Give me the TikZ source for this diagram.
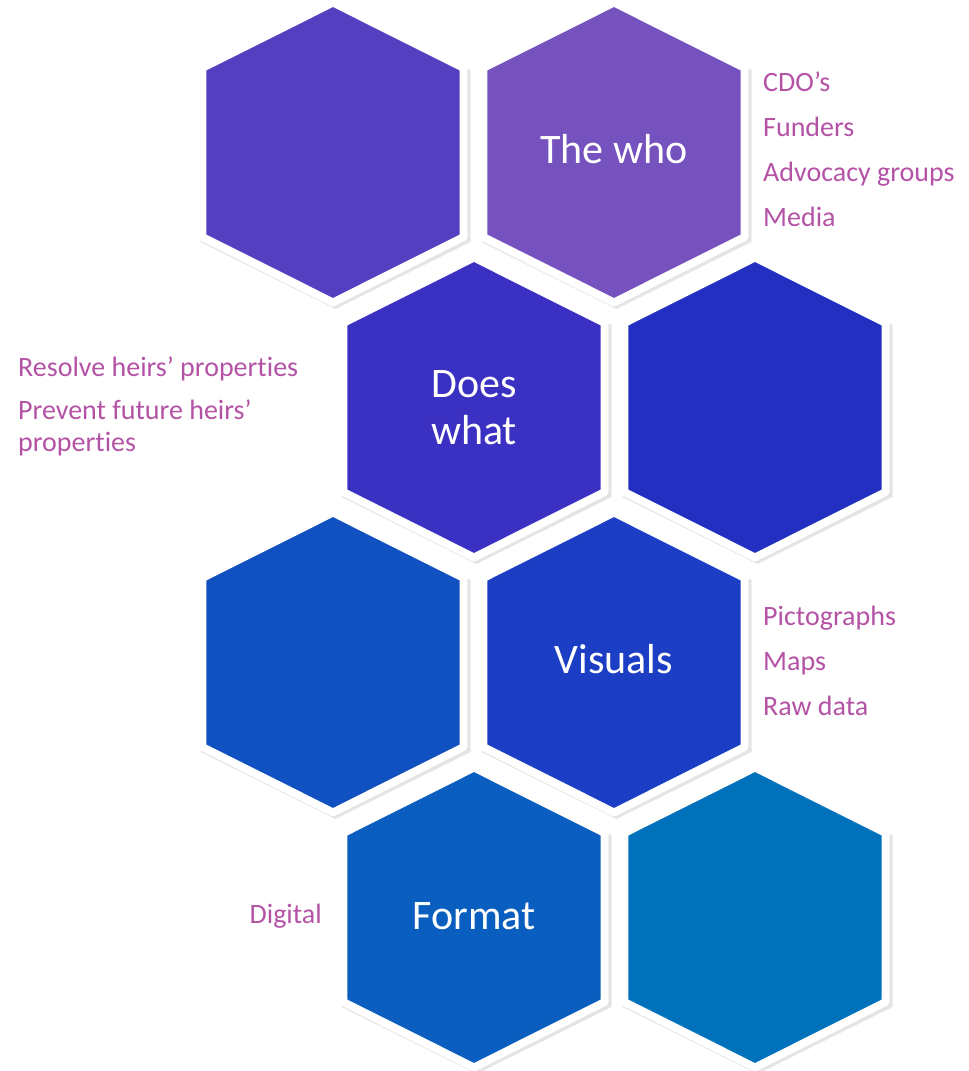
\documentclass[tikz,border=0pt]{standalone}
\usepackage{fontspec}
\setmainfont{Carlito}[Ligatures=NoCommon]
\usetikzlibrary{calc}
\definecolor{hexTL}{RGB}{85,63,193}
\definecolor{hexWho}{RGB}{117,82,190}
\definecolor{hexDoes}{RGB}{58,48,194}
\definecolor{hexRtwo}{RGB}{35,47,192}
\definecolor{hexLthree}{RGB}{17,80,192}
\definecolor{hexVis}{RGB}{28,62,196}
\definecolor{hexFmt}{RGB}{10,94,192}
\definecolor{hexRfour}{RGB}{0,114,188}
\definecolor{itempink}{RGB}{180,82,166}

\begin{document}
\begin{tikzpicture}[x=1pt,y=-1pt]
	\path [use as bounding box] (0,0) rectangle (969,1071);
	\tikzstyle{hextext} = [text=white, font=\fontsize{42}{47}\selectfont, align=center]
	\tikzstyle{itemtext} = [text=itempink, font=\fontsize{28}{32}\selectfont, align=left, inner sep=0pt]
	\foreach \n/\x/\y in {TL/333/152.5, Who/614/152.5, Does/474/407.5, Rtwo/755/407.5, Lthree/333/662.5, Vis/614/662.5, Fmt/474/917.5, Rfour/755/917.5} {
		\fill[black, opacity=.1, shift={(\x+2.5,\y+3.5)}] (0,-153) -- (135,-86) -- (135,86) -- (0,153) -- (-135,86) -- (-135,-86) -- cycle;
		\fill[black, opacity=.12, shift={(\x+1.5,\y+2)}] (0,-151.5) -- (133,-85) -- (133,85) -- (0,151.5) -- (-133,85) -- (-133,-85) -- cycle;
		\filldraw[fill=hex\n, draw=white, line width=8pt, line join=round, shift={(\x,\y)}] (0,-150) -- (130.7,-84.5) -- (130.7,84.5) -- (0,150) -- (-130.7,84.5) -- (-130.7,-84.5) -- cycle;
		\coordinate (hex\n) at (\x,\y);
	}
	\node[hextext, anchor=base] (who) at ($(hexWho)+(0,10.5)$) {The who};
	\node[hextext] (does) at (hexDoes) {Does\\what};
	\node[hextext, anchor=base] (visuals) at ($(hexVis)+(0,10.5)$) {Visuals};
	\node[hextext, anchor=base] (format) at ($(hexFmt)+(0,11.5)$) {Format};
	\node[itemtext, anchor=base west] (whoList) at ($(hexWho)+(149,74.2)$) {CDO’s\\[13pt]Funders\\[13pt]Advocacy groups\\[13pt]Media};
	\node[itemtext, anchor=base west] (doesList) at ($(hexDoes)+(-456,44.2)$) {Resolve heirs’ properties\\[11pt]Prevent future heirs’\\properties};
	\node[itemtext, anchor=base west] (visList) at ($(hexVis)+(149,52.5)$) {Pictographs\\[13pt]Maps\\[13pt]Raw data};
	\node[itemtext, anchor=base east] (fmtList) at ($(hexFmt)+(-152,5.5)$) {Digital};
\end{tikzpicture}
\end{document}
